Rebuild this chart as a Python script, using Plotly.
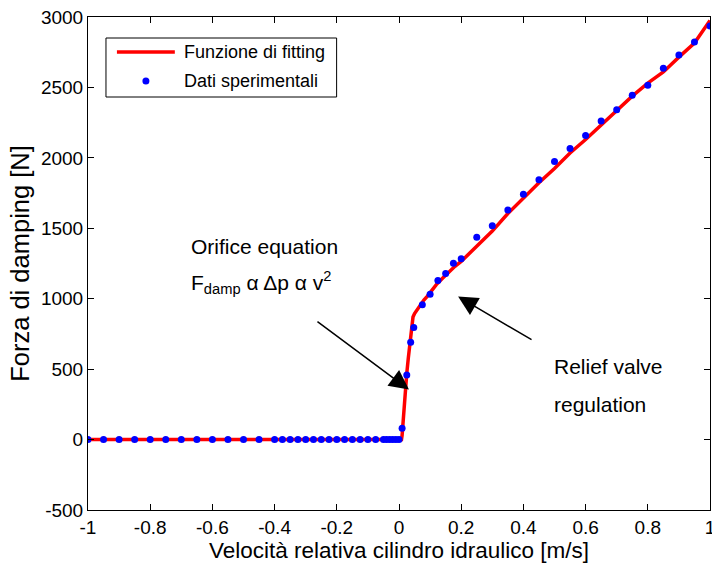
import plotly.graph_objects as go

# Experimental data
data_x = [-1.0, -0.95, -0.9, -0.85, -0.8, -0.75, -0.7, -0.65, -0.6, -0.55, -0.5, -0.45, -0.4,
          -0.375, -0.35, -0.325, -0.3, -0.275, -0.25, -0.225, -0.2, -0.175, -0.15, -0.125, -0.1, -0.075,
          -0.05, -0.04, -0.03, -0.02, -0.01, 0.0,
          0.01, 0.025, 0.0375, 0.0475, 0.075, 0.1, 0.125, 0.15, 0.175, 0.2, 0.25, 0.3, 0.35, 0.4,
          0.45, 0.5, 0.55, 0.6, 0.65, 0.7, 0.75, 0.8, 0.85, 0.9, 0.95, 1.0]
data_y = [0] * 32 + [80, 458, 691, 795, 958, 1032, 1129, 1179, 1252, 1283, 1437, 1518, 1629, 1742,
                     1844, 1975, 2066, 2159, 2261, 2342, 2445, 2516, 2636, 2731, 2822, 2936]

# Fitting function
fit_x = [-1.0, 0.008, 0.010, 0.012, 0.015, 0.018, 0.021, 0.025, 0.030, 0.035, 0.038, 0.041, 0.045,
         0.050, 0.060, 0.070, 0.080, 0.090, 0.100, 0.120, 0.140, 0.160, 0.180, 0.200, 0.25, 0.3,
         0.35, 0.4, 0.45, 0.5, 0.55, 0.6, 0.65, 0.7, 0.75, 0.8, 0.85, 0.9, 0.95, 1.0]
fit_y = [0, 0, 30, 100, 200, 300, 390, 470, 580, 680, 760, 830, 870,
         895, 930, 960, 990, 1015, 1045, 1100, 1145, 1190, 1230, 1265, 1373, 1480,
         1605, 1715, 1823, 1925, 2035, 2130, 2235, 2340, 2438, 2530, 2610, 2715, 2815, 2975]

x_tickvals = [-1, -0.8, -0.6, -0.4, -0.2, 0, 0.2, 0.4, 0.6, 0.8, 1]
x_ticktext = ["-1", "-0.8", "-0.6", "-0.4", "-0.2", "0", "0.2", "0.4", "0.6", "0.8", "1"]
y_tickvals = [-500, 0, 500, 1000, 1500, 2000, 2500, 3000]
y_ticktext = ["-500", "0", "500", "1000", "1500", "2000", "2500", "3000"]

legend_labels = ["Funzione di fitting", "Dati sperimentali"]

FONT = "Liberation Sans, Arial, sans-serif"
RED = "#ff0000"
BLUE = "#0000ff"

fig = go.Figure()
fig.add_trace(go.Scatter(x=fit_x, y=fit_y, mode="lines", name=legend_labels[0],
                         line=dict(color=RED, width=3.5), showlegend=False))
fig.add_trace(go.Scatter(x=data_x, y=data_y, mode="markers", name=legend_labels[1],
                         marker=dict(color=BLUE, size=7), showlegend=False))

axis_common = dict(showline=True, linecolor="black", linewidth=1, mirror="ticks",
                   ticks="inside", ticklen=6, tickcolor="black", showgrid=False, zeroline=False,
                   ticklabeloverflow="allow", automargin=False,
                   tickfont=dict(family=FONT, size=19, color="black"))

fig.update_xaxes(range=[-1, 1], tickvals=x_tickvals, ticktext=x_ticktext,
                 title=dict(text="Velocità relativa cilindro idraulico [m/s]",
                            font=dict(family=FONT, size=22.5, color="black"), standoff=2),
                 **axis_common)
fig.update_yaxes(range=[-500, 3000], tickvals=y_tickvals, ticktext=y_ticktext,
                 title=dict(text="Forza di damping [N]",
                            font=dict(family=FONT, size=25.5, color="black"), standoff=3),
                 **axis_common)

ann_font = dict(family=FONT, size=21, color="black")
fig.add_annotation(x=0.032, y=355, ax=-0.267, ay=845, xref="x", yref="y", axref="x", ayref="y",
                   showarrow=True, arrowhead=2, arrowsize=2.6, arrowwidth=1.5, arrowcolor="black", text="")
fig.add_annotation(x=0.19, y=1015, ax=0.431, ay=703, xref="x", yref="y", axref="x", ayref="y",
                   showarrow=True, arrowhead=2, arrowsize=2.6, arrowwidth=1.5, arrowcolor="black", text="")
fig.add_annotation(x=-0.674, y=1372, text="Orifice equation", showarrow=False,
                   xanchor="left", yanchor="middle", font=ann_font)
fig.add_annotation(x=-0.674, y=1115, text="F<sub>damp</sub> α Δp α v<sup>2</sup>", showarrow=False,
                   xanchor="left", yanchor="middle", font=ann_font)
fig.add_annotation(x=0.491, y=520, text="Relief valve", showarrow=False,
                   xanchor="left", yanchor="middle", font=ann_font)
fig.add_annotation(x=0.491, y=248, text="regulation", showarrow=False,
                   xanchor="left", yanchor="middle", font=ann_font)

# Legend box (MATLAB style)
fig.add_shape(type="rect", xref="paper", yref="paper", x0=0.0289, x1=0.3997, y0=0.8377, y1=0.9574,
              line=dict(color="black", width=1), fillcolor="white", layer="above")
fig.add_shape(type="line", xref="paper", yref="paper", x0=0.0465, x1=0.1396, y0=0.929, y1=0.929,
              line=dict(color=RED, width=3.5), layer="above")
fig.add_shape(type="circle", xref="paper", yref="paper", xsizemode="pixel", ysizemode="pixel",
              xanchor=0.0931, yanchor=0.8702, x0=-3.5, x1=3.5, y0=-3.5, y1=3.5,
              line=dict(color=BLUE, width=0), fillcolor=BLUE, layer="above")
fig.add_annotation(x=0.1509, y=0.929, xref="paper", yref="paper", text=legend_labels[0],
                   showarrow=False, xanchor="left", yanchor="middle",
                   font=dict(family=FONT, size=18, color="black"))
fig.add_annotation(x=0.1509, y=0.8702, xref="paper", yref="paper", text=legend_labels[1],
                   showarrow=False, xanchor="left", yanchor="middle",
                   font=dict(family=FONT, size=18, color="black"))

fig.update_layout(
    width=712, height=565,
    margin=dict(l=88, r=2, t=17, b=55),
    paper_bgcolor="white", plot_bgcolor="white",
    font=dict(family=FONT, color="black"),
    showlegend=False,
)

fig.write_html("out.html",
               config={"displayModeBar": False},
               post_script="document.body.style.margin='0';document.body.style.overflow='hidden';")
